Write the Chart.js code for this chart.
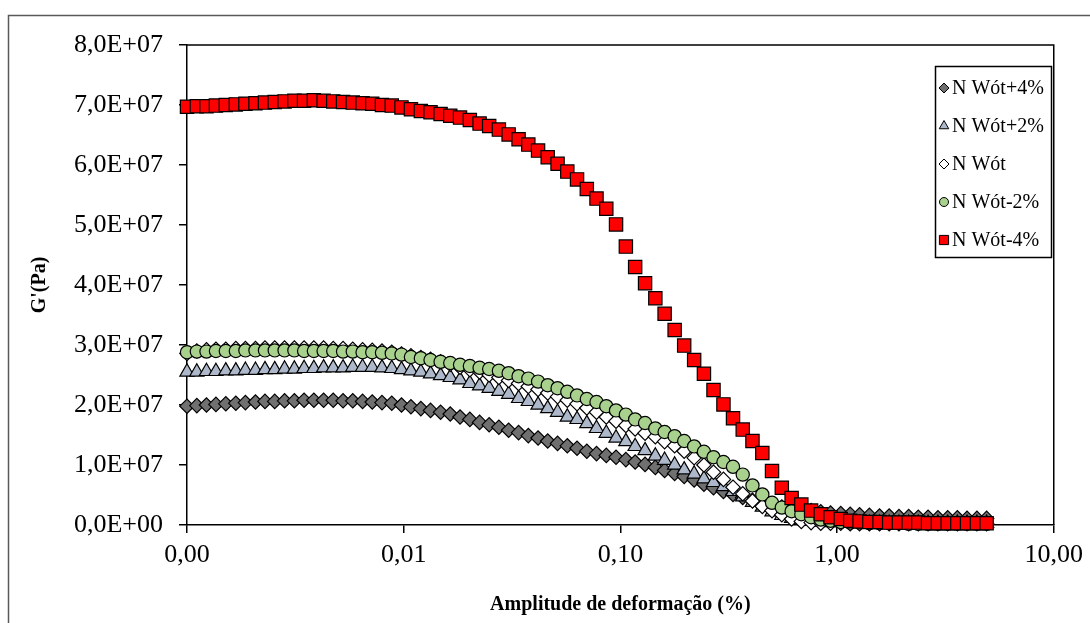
<!DOCTYPE html>
<html>
<head>
<meta charset="utf-8">
<script src="https://cdn.jsdelivr.net/npm/chart.js@4.4.0/dist/chart.umd.min.js"></script>
<style>
    html, body { margin: 0; padding: 0; background: #fff; }
    #wrap { width: 1090px; height: 623px; }
</style>
</head>
<body>
<div id="wrap"><canvas id="gChart" width="1090" height="623"></canvas></div>
<script>
// Strain amplitude (%)
const strain = [
    0.00100, 0.00111, 0.00123, 0.00136, 0.00151, 0.00168, 0.00186, 0.00207, 0.00229, 0.00254,
    0.00282, 0.00313, 0.00347, 0.00385, 0.00427, 0.00473, 0.00525, 0.00582, 0.00646, 0.00716,
    0.00794, 0.00881, 0.00977, 0.0108, 0.0120, 0.0133, 0.0148, 0.0164, 0.0182, 0.0202,
    0.0224, 0.0248, 0.0275, 0.0305, 0.0339, 0.0376, 0.0417, 0.0462, 0.0513, 0.0569,
    0.0631, 0.0700, 0.0776, 0.0861, 0.0955, 0.106, 0.117, 0.130, 0.145, 0.160,
    0.178, 0.197, 0.219, 0.243, 0.269, 0.299, 0.331, 0.367, 0.407, 0.452,
    0.501, 0.556, 0.617, 0.684, 0.759, 0.841, 0.933, 1.04, 1.15, 1.27,
    1.41, 1.57, 1.74, 1.93, 2.14, 2.37, 2.63, 2.92, 3.24, 3.59,
    3.98, 4.42, 4.90
];

// G' values, in units of 1E+07 Pa
const gPlus4 = [
    1.98, 1.99, 2.00, 2.01, 2.02, 2.03, 2.04, 2.05, 2.06, 2.06,
    2.07, 2.07, 2.08, 2.08, 2.08, 2.08, 2.07, 2.07, 2.06, 2.05,
    2.04, 2.03, 2.00, 1.97, 1.94, 1.91, 1.88, 1.85, 1.80, 1.76,
    1.71, 1.67, 1.63, 1.58, 1.54, 1.49, 1.45, 1.40, 1.36, 1.32,
    1.28, 1.23, 1.19, 1.16, 1.13, 1.09, 1.05, 1.01, 0.96, 0.91,
    0.86, 0.81, 0.75, 0.68, 0.62, 0.56, 0.51, 0.46, 0.41, 0.37,
    0.33, 0.30, 0.28, 0.26, 0.24, 0.22, 0.20, 0.19, 0.18, 0.17,
    0.16, 0.15, 0.15, 0.14, 0.14, 0.13, 0.13, 0.12, 0.12, 0.12,
    0.11, 0.11, 0.11
];
const gPlus2 = [
    2.55, 2.55, 2.56, 2.56, 2.57, 2.57, 2.58, 2.58, 2.59, 2.59,
    2.60, 2.60, 2.61, 2.61, 2.62, 2.62, 2.62, 2.63, 2.63, 2.63,
    2.62, 2.61, 2.59, 2.57, 2.55, 2.52, 2.49, 2.46, 2.42, 2.36,
    2.32, 2.28, 2.23, 2.18, 2.11, 2.06, 2.00, 1.94, 1.88, 1.80,
    1.76, 1.69, 1.61, 1.53, 1.45, 1.39, 1.31, 1.24, 1.15, 1.08,
    1.00, 0.92, 0.85, 0.77, 0.71, 0.64, 0.56, 0.47, 0.38, 0.30,
    0.22, 0.16, 0.11, 0.08, 0.06, 0.05, 0.04, 0.04, 0.03, 0.03,
    0.03, 0.03, 0.03, 0.03, 0.03, 0.03, 0.03, 0.03, 0.03, 0.03,
    0.03, 0.03, 0.03
];
const gWot = [
    2.86, 2.90, 2.92, 2.93, 2.93, 2.94, 2.94, 2.94, 2.95, 2.95,
    2.95, 2.95, 2.95, 2.95, 2.95, 2.94, 2.94, 2.93, 2.92, 2.91,
    2.90, 2.88, 2.85, 2.82, 2.79, 2.76, 2.72, 2.68, 2.63, 2.59,
    2.55, 2.50, 2.46, 2.41, 2.36, 2.31, 2.26, 2.20, 2.14, 2.08,
    2.02, 1.95, 1.88, 1.80, 1.73, 1.66, 1.60, 1.53, 1.47, 1.39,
    1.32, 1.23, 1.12, 1.00, 0.88, 0.76, 0.63, 0.52, 0.40, 0.31,
    0.24, 0.17, 0.10, 0.06, 0.04, 0.03, 0.03, 0.03, 0.02, 0.02,
    0.02, 0.02, 0.02, 0.02, 0.02, 0.02, 0.02, 0.02, 0.02, 0.02,
    0.02, 0.02, 0.02
];
const gMinus2 = [
    2.88, 2.89, 2.89, 2.90, 2.90, 2.90, 2.91, 2.91, 2.91, 2.91,
    2.91, 2.91, 2.90, 2.90, 2.90, 2.90, 2.89, 2.89, 2.88, 2.88,
    2.87, 2.86, 2.84, 2.80, 2.78, 2.75, 2.72, 2.70, 2.67, 2.65,
    2.62, 2.60, 2.57, 2.53, 2.48, 2.44, 2.39, 2.33, 2.28, 2.22,
    2.16, 2.10, 2.05, 1.98, 1.91, 1.84, 1.76, 1.70, 1.61, 1.55,
    1.48, 1.40, 1.31, 1.22, 1.13, 1.05, 0.97, 0.84, 0.66, 0.51,
    0.37, 0.29, 0.23, 0.18, 0.13, 0.09, 0.07, 0.05, 0.04, 0.04,
    0.03, 0.03, 0.03, 0.03, 0.02, 0.02, 0.02, 0.02, 0.02, 0.02,
    0.02, 0.02, 0.02
];
const gMinus4 = [
    6.97, 6.98, 6.98, 6.99, 7.00, 7.01, 7.02, 7.03, 7.04, 7.05,
    7.06, 7.07, 7.07, 7.08, 7.07, 7.06, 7.05, 7.04, 7.03, 7.02,
    7.00, 6.99, 6.96, 6.93, 6.90, 6.88, 6.85, 6.82, 6.79, 6.75,
    6.69, 6.65, 6.59, 6.51, 6.43, 6.34, 6.24, 6.13, 6.02, 5.89,
    5.76, 5.60, 5.44, 5.27, 5.01, 4.64, 4.30, 4.03, 3.78, 3.52,
    3.25, 2.99, 2.75, 2.52, 2.25, 2.01, 1.78, 1.59, 1.40, 1.20,
    0.90, 0.62, 0.45, 0.34, 0.24, 0.18, 0.13, 0.10, 0.07, 0.06,
    0.05, 0.05, 0.04, 0.04, 0.04, 0.04, 0.03, 0.03, 0.03, 0.03,
    0.03, 0.03, 0.03
];

const seriesNames = ['N Wót+4%', 'N Wót+2%', 'N Wót', 'N Wót-2%', 'N Wót-4%'];
const xTickValues = [0.001, 0.01, 0.1, 1, 10];
const xTickLabels = ['0,00', '0,01', '0,10', '1,00', '10,00'];
const yTickLabels = ['0,0E+00', '1,0E+07', '2,0E+07', '3,0E+07', '4,0E+07',
                     '5,0E+07', '6,0E+07', '7,0E+07', '8,0E+07'];

const serif = '"Liberation Serif", "Times New Roman", serif';
Chart.defaults.font.family = serif;
Chart.defaults.color = '#000';

const toPoints = (vals) => vals.map((v, i) => ({ x: strain[i], y: v }));

// Outer frame of the chart (right and bottom edges fall outside the picture)
const frame = {
    id: 'frame',
    beforeDraw(chart) {
        const ctx = chart.ctx;
        ctx.save();
        ctx.fillStyle = '#fff';
        ctx.fillRect(0, 0, chart.width, chart.height);
        ctx.strokeStyle = '#595959';
        ctx.lineWidth = 1.5;
        ctx.strokeRect(8.5, 15.5, 1200, 700);
        ctx.restore();
    }
};

// Top and right edges of the plot area
const plotEdge = {
    id: 'plotEdge',
    afterDraw(chart) {
        const { ctx, chartArea } = chart;
        ctx.save();
        ctx.strokeStyle = '#000';
        ctx.lineWidth = 1.5;
        ctx.beginPath();
        ctx.moveTo(chartArea.left, chartArea.top);
        ctx.lineTo(chartArea.right, chartArea.top);
        ctx.lineTo(chartArea.right, chartArea.bottom);
        ctx.stroke();
        ctx.restore();
    }
};

// Legend box inside the plot area
const innerLegend = {
    id: 'innerLegend',
    afterDraw(chart) {
        const ctx = chart.ctx;
        ctx.save();
        ctx.strokeStyle = '#000';
        ctx.lineWidth = 1.5;
        ctx.strokeRect(935.5, 66.5, 116, 191);
        ctx.font = '20px ' + serif;
        ctx.textBaseline = 'middle';
        chart.data.datasets.forEach((ds, i) => {
            const y = 88 + i * 38;
            ctx.fillStyle = ds.backgroundColor;
            ctx.strokeStyle = '#000';
            ctx.lineWidth = 1;
            Chart.helpers.drawPoint(ctx, {
                pointStyle: ds.pointStyle,
                radius: ds.legendRadius,
                rotation: 0,
                borderWidth: 1
            }, 944, y);
            ctx.fillStyle = '#000';
            ctx.fillText(ds.label, 952, y + 1);
        });
        ctx.restore();
    }
};

const ds = (idx, vals, style, fill, radius, legendRadius, order) => ({
    label: seriesNames[idx],
    data: toPoints(vals),
    pointStyle: style,
    backgroundColor: fill,
    borderColor: '#000',
    borderWidth: 1.2,
    pointRadius: radius,
    pointHoverRadius: radius,
    legendRadius: legendRadius,
    showLine: false,
    clip: false,
    order: order
});

new Chart(document.getElementById('gChart'), {
    type: 'scatter',
    data: {
        datasets: [
            ds(0, gPlus4, 'rectRot', '#707070', 7.2, 5, 5),
            ds(1, gPlus2, 'triangle', '#ADB9CA', 8.2, 5.5, 4),
            ds(2, gWot, 'rectRot', '#FFFFFF', 7.2, 5, 3),
            ds(3, gMinus2, 'circle', '#A9D18E', 6.6, 4.5, 2),
            ds(4, gMinus4, 'rect', '#FF0000', 9.4, 6.5, 1)
        ]
    },
    options: {
        responsive: false,
        animation: false,
        devicePixelRatio: 1,
        layout: { padding: { left: 0, top: 45, right: 31, bottom: 0 } },
        plugins: {
            legend: { display: false },
            tooltip: { enabled: false }
        },
        scales: {
            x: {
                type: 'logarithmic',
                position: 'bottom',
                min: 0.001,
                max: 10,
                afterBuildTicks: (scale) => {
                    scale.ticks = xTickValues.map(v => ({ value: v }));
                },
                afterFit: (scale) => { scale.height = 98; },
                ticks: {
                    autoSkip: false,
                    maxRotation: 0,
                    padding: 7,
                    font: { size: 26 },
                    color: '#000',
                    callback: (value, index) => xTickLabels[index]
                },
                grid: {
                    drawOnChartArea: false,
                    drawTicks: true,
                    tickLength: 8,
                    color: '#000',
                    lineWidth: 1.5
                },
                border: { color: '#000', width: 1.5 },
                title: {
                    display: true,
                    text: 'Amplitude de deformação (%)',
                    font: { size: 20, weight: 'bold' },
                    color: '#000',
                    padding: { top: 0, bottom: 6 }
                }
            },
            y: {
                min: 0,
                max: 8,
                afterFit: (scale) => { scale.width = 187; },
                ticks: {
                    stepSize: 1,
                    padding: 16,
                    font: { size: 26 },
                    color: '#000',
                    callback: (value, index) => yTickLabels[index]
                },
                grid: {
                    drawOnChartArea: false,
                    drawTicks: true,
                    tickLength: 8,
                    color: '#000',
                    lineWidth: 1.5
                },
                border: { color: '#000', width: 1.5 },
                title: {
                    display: true,
                    text: "G'(Pa)",
                    font: { size: 20, weight: 'bold' },
                    color: '#000',
                    padding: { top: 28, bottom: 0 }
                }
            }
        }
    },
    plugins: [frame, plotEdge, innerLegend]
});
</script>
</body>
</html>
